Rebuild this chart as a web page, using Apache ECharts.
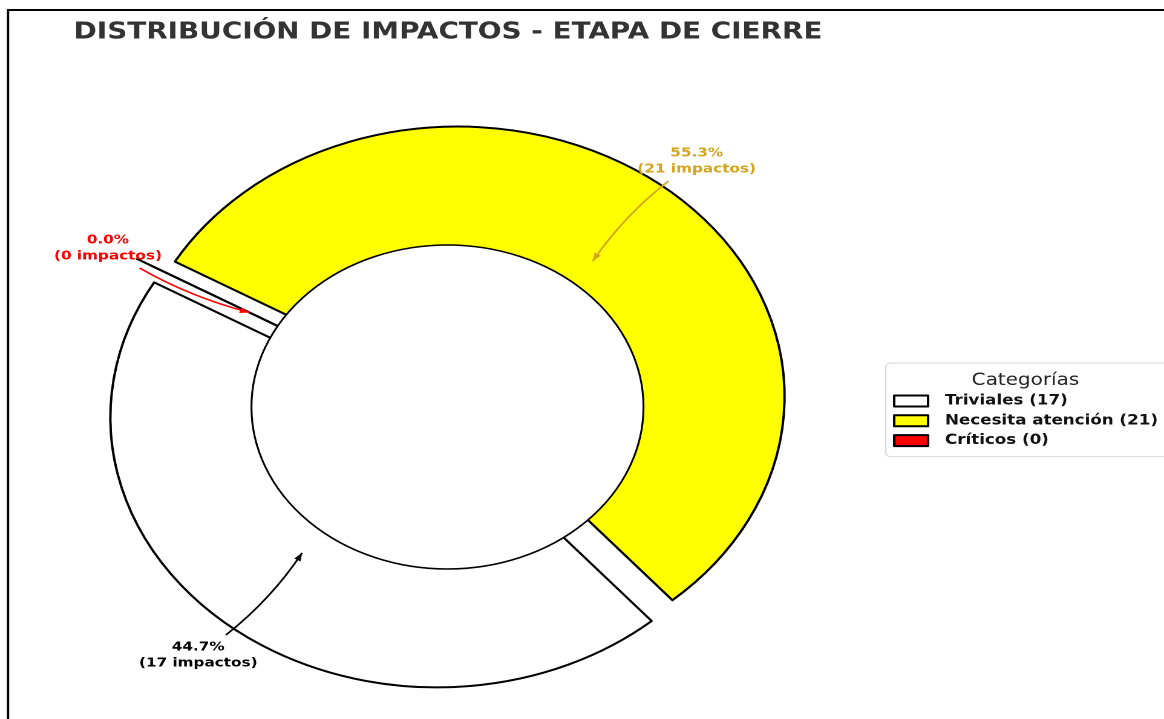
<!DOCTYPE html>
<html>
<head>
<meta charset="utf-8">
<title>Distribución de impactos - Etapa de cierre</title>
<style>
  html, body { margin: 0; padding: 0; background: #fff; overflow: hidden; }
  /* la figura original está estirada en horizontal: se dibuja en 962px y se escala */
  #main { width: 962px; height: 719px; transform: scaleX(1.21); transform-origin: 0 0; }
</style>
<script src="https://cdn.jsdelivr.net/npm/echarts@6/dist/echarts.min.js"></script>
</head>
<body>
<div id="main"></div>
<script>
// datos
var categorias = ["Triviales", "Necesita atención", "Críticos"];
var impactos = [17, 21, 0];

// estilos
var colores = ["#ffffff", "#ffff00", "#ff0000"];
var coloresTexto = ["#000000", "#d4a520", "#ff0000"];

var CX = 369.8, CY = 407, R = 270;   // centro y radio de la torta (px sin escalar)
var INICIO = 150;                    // startAngle
var HUECO = 0.6;                     // radio del círculo central
var SEPARA = 0.05, SEPARA_CERO = 0.1; // explode
var CURVA = 0.1;                     // arc3 rad
var RX_TEXTO = 1.2, RY_TEXTO = 1.185, R_FLECHA = 0.7;
var FUENTE = "DejaVu Sans";

var total = impactos.reduce(function (a, b) { return a + b; }, 0);
var nombres = categorias.map(function (c, i) { return c + " (" + impactos[i] + ")"; });

function angulos(i) {
  var acum = 0;
  for (var j = 0; j < i; j++) acum += impactos[j];
  var a0 = INICIO + acum / total * 360;
  var a1 = INICIO + (acum + impactos[i]) / total * 360;
  return [a0, a1];
}

var ctxMedida = document.createElement("canvas").getContext("2d");

function anotacion(params, api) {
  var i = api.value(1);
  var v = api.value(0);
  var ang = angulos(i);
  var mid = (ang[0] + ang[1]) / 2 * Math.PI / 180;
  var ux = Math.cos(mid), uy = -Math.sin(mid);
  var hijos = [];

  // porción de valor cero: solo queda su borde radial
  if (v === 0) {
    hijos.push({
      type: "line",
      shape: {
        x1: CX + ux * R * HUECO, y1: CY + uy * R * HUECO,
        x2: CX + ux * R * (1 + SEPARA_CERO), y2: CY + uy * R * (1 + SEPARA_CERO)
      },
      style: { stroke: "#000", lineWidth: 2 }
    });
  }

  var texto = (v / total * 100).toFixed(1) + "%\n(" + v + " impactos)";
  var tx = CX + ux * R * RX_TEXTO, ty = CY + uy * R * RY_TEXTO + 1;
  var px = CX + ux * R * R_FLECHA, py = CY + uy * R * R_FLECHA;
  var lh = 16;
  var font = "bold 12.6px '" + FUENTE + "'";
  ctxMedida.font = font;
  var w = Math.max.apply(null, texto.split("\n").map(function (l) { return ctxMedida.measureText(l).width; }));
  var hw = w / 2 + 4, hh = lh + 4;

  // flecha curva (arc3)
  var dx = px - tx, dy = py - ty;
  var cpx = (tx + px) / 2 - CURVA * dy, cpy = (ty + py) / 2 + CURVA * dx;
  function pt(t) {
    var a = (1 - t) * (1 - t), b = 2 * (1 - t) * t, c = t * t;
    return [a * tx + b * cpx + c * px, a * ty + b * cpy + c * py];
  }
  var lo = 0, hi = 1;
  for (var k = 0; k < 30; k++) {
    var m = (lo + hi) / 2, p = pt(m);
    if (Math.abs(p[0] - tx) < hw && Math.abs(p[1] - ty) < hh) lo = m; else hi = m;
  }
  var s = pt(hi);
  var c2x = (1 - hi) * cpx + hi * px, c2y = (1 - hi) * cpy + hi * py;
  var col = coloresTexto[i];
  hijos.push({
    type: "bezierCurve",
    shape: { x1: s[0], y1: s[1], cpx1: c2x, cpy1: c2y, x2: px, y2: py },
    style: { stroke: col, lineWidth: 1.6, fill: null }
  });
  var ddx = px - c2x, ddy = py - c2y, dl = Math.sqrt(ddx * ddx + ddy * ddy);
  ddx /= dl; ddy /= dl;
  var L = 8, W = 3;
  hijos.push({
    type: "polygon",
    shape: { points: [
      [px, py],
      [px - ddx * L - ddy * W, py - ddy * L + ddx * W],
      [px - ddx * L + ddy * W, py - ddy * L - ddx * W]
    ] },
    style: { fill: col }
  });
  hijos.push({
    type: "text",
    style: {
      text: texto, x: tx, y: ty, fill: col, font: font,
      align: "center", verticalAlign: "middle", lineHeight: lh
    }
  });
  return { type: "group", children: hijos };
}

var chart = echarts.init(document.getElementById("main"), null, { renderer: "canvas", devicePixelRatio: 2 });

var option = {
  animation: false,
  backgroundColor: "#fff",
  title: [{
    text: "DISTRIBUCIÓN DE IMPACTOS - ETAPA DE CIERRE",
    left: CX - 4.5, top: 16, textAlign: "center",
    textStyle: { fontFamily: FUENTE, fontWeight: "bold", fontSize: 23, color: "#333" }
  }, {
    text: "Categorías",
    left: 842.5, top: 367, textAlign: "center",
    textStyle: { fontFamily: FUENTE, fontWeight: "normal", fontSize: 16.5, color: "#222" }
  }],
  legend: {
    orient: "vertical",
    left: 732, top: 363,
    data: nombres,
    icon: "rect",
    itemWidth: 28, itemHeight: 11, itemGap: 5.8,
    padding: [31, 40, 9, 6],
    borderColor: "#d6d6d6", borderWidth: 1, borderRadius: 4,
    backgroundColor: "#fff",
    selectedMode: false,
    textStyle: { fontFamily: FUENTE, fontWeight: "bold", fontSize: 13.8, color: "#111", lineHeight: 14, padding: [0, 0, 0, 9] }
  },
  graphic: [{
    type: "rect",
    shape: { x: 6.6, y: 10, width: 2000, height: 2000 },
    style: { fill: null, stroke: "#000", lineWidth: 2 },
    silent: true
  }],
  series: [{
    type: "pie",
    name: "Categorías",
    center: [CX, CY],
    radius: [0, R],
    startAngle: INICIO,
    clockwise: false,
    selectedMode: "multiple",
    selectedOffset: R * SEPARA,
    avoidLabelOverlap: false,
    silent: true,
    z: 2,
    label: { show: false },
    labelLine: { show: false },
    itemStyle: { borderColor: "#000", borderWidth: 2 },
    data: impactos.map(function (v, i) {
      return { name: nombres[i], value: v, selected: true, itemStyle: { color: colores[i] } };
    })
  }, {
    type: "pie",
    name: "hueco",
    center: [CX, CY],
    radius: [0, R * HUECO],
    silent: true,
    z: 3,
    label: { show: false },
    labelLine: { show: false },
    itemStyle: { color: "#fff", borderColor: "#000", borderWidth: 1.6 },
    data: [{ name: "", value: 1 }]
  }, {
    type: "custom",
    name: "anotaciones",
    coordinateSystem: "none",
    silent: true,
    z: 5,
    data: impactos.map(function (v, i) { return [v, i]; }),
    renderItem: anotacion
  }]
};

chart.setOption(option);
</script>
</body>
</html>
